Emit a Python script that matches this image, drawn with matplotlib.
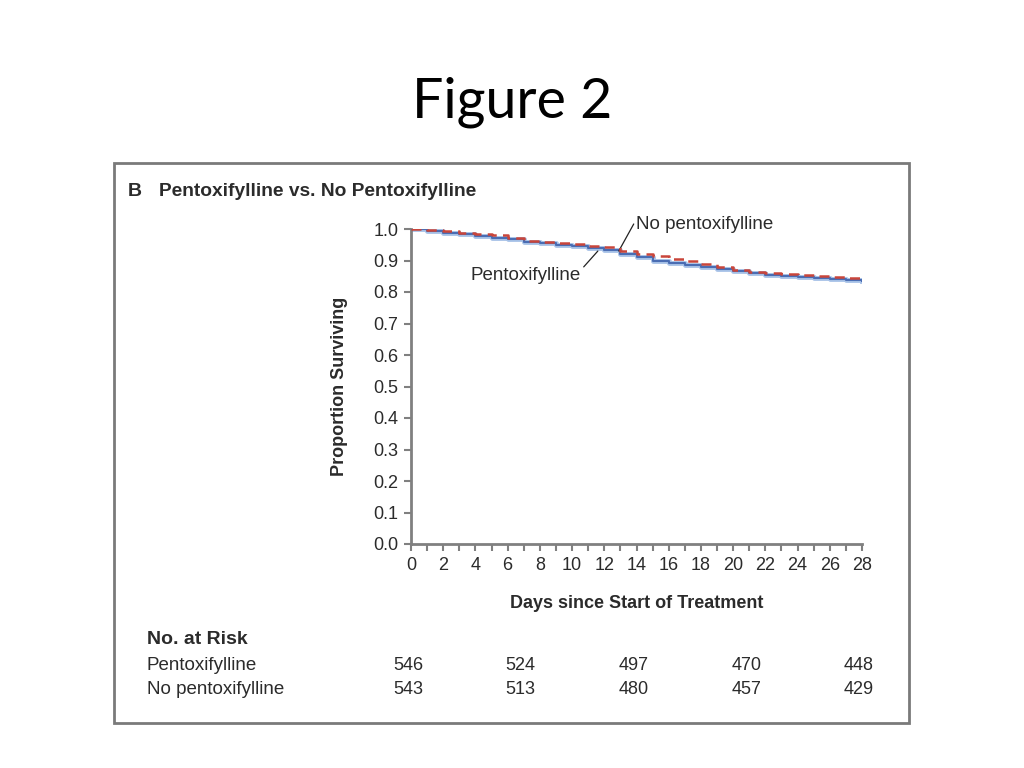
import matplotlib.pyplot as plt
from matplotlib.patches import Rectangle

# Kaplan-Meier curves (value at each day, step post)
days = list(range(0, 29))
pentox = [1.000, 0.995, 0.988, 0.985, 0.978, 0.972, 0.968, 0.960, 0.957, 0.950,
          0.946, 0.941, 0.933, 0.920, 0.910, 0.900, 0.893, 0.885, 0.879, 0.873,
          0.866, 0.860, 0.855, 0.851, 0.848, 0.845, 0.841, 0.838, 0.835]
no_pentox = [1.000, 0.997, 0.993, 0.988, 0.984, 0.980, 0.973, 0.962, 0.960, 0.955,
             0.952, 0.946, 0.942, 0.931, 0.922, 0.914, 0.905, 0.897, 0.890, 0.880,
             0.871, 0.865, 0.860, 0.857, 0.854, 0.851, 0.848, 0.845, 0.842]

yticks = [0.0, 0.1, 0.2, 0.3, 0.4, 0.5, 0.6, 0.7, 0.8, 0.9, 1.0]
xticks = list(range(0, 29, 2))

# Number at risk table
risk_days = [0, 7, 14, 21, 28]
risk_pentox = [546, 524, 497, 470, 448]
risk_no_pentox = [543, 513, 480, 457, 429]

font = ['Liberation Sans Narrow', 'Liberation Sans', 'DejaVu Sans']
plt.rcParams['font.family'] = font
txt = '#2b2b2b'

fig = plt.figure(figsize=(10.24, 7.68), dpi=100)

# slide title
fig.text(0.5, 1 - 102 / 768, 'Figure 2', ha='center', va='center',
         fontsize=40, family=['Lato', 'DejaVu Sans'], color='black')

# frame around the pasted figure
fig.patches.append(Rectangle((114 / 1024, 1 - 723 / 768), (909 - 114) / 1024,
                             (723 - 163) / 768, transform=fig.transFigure,
                             fill=False, edgecolor='#7a7a7a', lw=2))

ax = fig.add_axes([411 / 1024, 1 - 544 / 768, (862 - 411) / 1024, (544 - 229) / 768])

ax.step(days, pentox, where='post', color='#a9c3e8', lw=3.5, zorder=2)
ax.step(days, pentox, where='post', color='#4a6db3', lw=1.5, zorder=3)
ax.step(days, no_pentox, where='post', color='#c9453a', lw=1.8,
        dashes=(4, 2.5), zorder=4)

ax.set_xlim(0, 28)
ax.set_ylim(0, 1.0)
ax.set_xticks(xticks)
ax.set_xticks(days, minor=True)
ax.set_yticks(yticks)
ax.set_yticklabels([f'{v:.1f}' for v in yticks])

for s in ['top', 'right']:
    ax.spines[s].set_visible(False)
for s in ['left', 'bottom']:
    ax.spines[s].set_color('#808080')
    ax.spines[s].set_linewidth(2)
ax.tick_params(which='both', direction='out', color='#808080', width=1.5,
               length=5, labelsize=13, labelcolor=txt, pad=4)

ax.set_ylabel('Proportion Surviving', fontsize=13, fontweight='bold',
              color=txt, labelpad=18)
ax.set_xlabel('Days since Start of Treatment', fontsize=13, fontweight='bold',
              color=txt, labelpad=15.5)

ax.annotate('No pentoxifylline', xy=(12.9, 0.930), xytext=(14.0, 1.013),
            ha='left', va='center', fontsize=13.5, color=txt,
            annotation_clip=False,
            arrowprops=dict(arrowstyle='-', color='#222222', lw=0.9,
                            relpos=(0, 0.85), shrinkA=0, shrinkB=0))
ax.annotate('Pentoxifylline', xy=(11.6, 0.930), xytext=(10.55, 0.851),
            ha='right', va='center', fontsize=13.5, color=txt,
            annotation_clip=False,
            arrowprops=dict(arrowstyle='-', color='#222222', lw=0.9,
                            relpos=(1, 0.85), shrinkA=0, shrinkB=0))

# panel heading
fig.text(128 / 1024, 1 - 191 / 768, 'B', fontsize=14, fontweight='bold',
         color=txt, va='center')
fig.text(159 / 1024, 1 - 191 / 768, 'Pentoxifylline vs. No Pentoxifylline',
         fontsize=13.8, fontweight='bold', color=txt, va='center')

# number at risk
fig.text(147 / 1024, 1 - 639 / 768, 'No. at Risk', fontsize=14, fontweight='bold',
         color=txt, va='center')
row_y = [1 - 665 / 768, 1 - 689 / 768]
rows = [('Pentoxifylline', risk_pentox), ('No pentoxifylline', risk_no_pentox)]
for (name, counts), yy in zip(rows, row_y):
    fig.text(147 / 1024, yy, name, fontsize=13.5, color=txt, va='center')
    for d, n in zip(risk_days, counts):
        xf = fig.transFigure.inverted().transform(ax.transData.transform((d, 0)))[0]
        fig.text(xf - 3 / 1024, yy, str(n), fontsize=13, color=txt,
                 ha='center', va='center')

fig.savefig('out.png', dpi=100)
